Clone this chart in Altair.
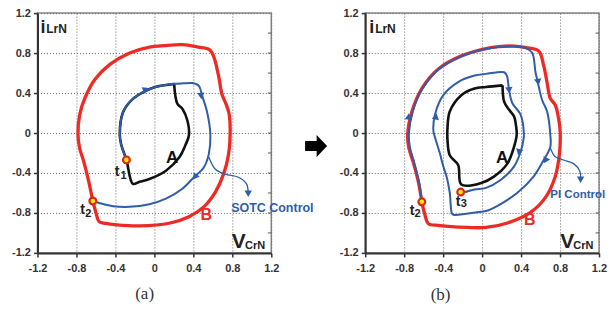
import altair as alt
import pandas as pd

RED = "#EE2A24"
BLUE = "#2F5DA8"
BLACK = "#111111"
DARK = "#222222"

ticks = [-1.2, -0.8, -0.4, 0, 0.4, 0.8, 1.2]
edge_ticks = [-1.0, -0.8, -0.6, -0.4, -0.2, 0.0, 0.2, 0.4, 0.6, 0.8, 1.0]

# ---------------- panel (a) ----------------
red_a_x = [-0.632, -0.598, -0.568, -0.50, -0.388, -0.15, 0.152, 0.355, 0.507, 0.626, 0.710, 0.761, 0.778,
           0.765, 0.735, 0.693, 0.659, 0.608, 0.565, 0.45, 0.287, 0.10, -0.05, -0.254, -0.456, -0.609,
           -0.710, -0.768, -0.784, -0.768, -0.727, -0.676, -0.632]
red_a_y = [-0.680, -0.805, -0.887, -0.905, -0.919, -0.930, -0.903, -0.837, -0.739, -0.591, -0.411, -0.214, 0.049,
           0.20, 0.29, 0.391, 0.571, 0.768, 0.835, 0.86, 0.884, 0.875, 0.86, 0.801, 0.687, 0.539,
           0.358, 0.177, -0.02, -0.148, -0.279, -0.476, -0.680]

black_a_x = [0.203, 0.236, 0.287, 0.338, 0.355, 0.321, 0.254, 0.119, -0.051, -0.152, -0.220, -0.287, -0.34,
             -0.355, -0.321, -0.220, -0.084, 0.0, 0.10, 0.203]
black_a_y = [0.490, 0.293, 0.243, 0.128, -0.020, -0.115, -0.246, -0.377, -0.460, -0.488, -0.509, -0.269, -0.118,
             -0.020, 0.210, 0.342, 0.424, 0.458, 0.478, 0.490]

blue_a_x = [-0.287, -0.34, -0.355, -0.321, -0.220, -0.084, 0.0, 0.10, 0.203, 0.30, 0.389, 0.456, 0.49, 0.541,
            0.575, 0.558, 0.507, 0.406, 0.287, 0.119, -0.051, -0.254, -0.423, -0.632]
blue_a_y = [-0.269, -0.118, -0.020, 0.210, 0.342, 0.424, 0.458, 0.478, 0.492, 0.497, 0.50, 0.473, 0.374, 0.210,
            -0.020, -0.214, -0.345, -0.443, -0.558, -0.657, -0.712, -0.739, -0.732, -0.680]

call_a_x = [0.558, 0.626, 0.727, 0.862, 0.946, 0.963]
call_a_y = [-0.24, -0.362, -0.411, -0.443, -0.509, -0.60]

arr_a_x = [-0.085, 0.48, 0.416, 0.963]
arr_a_y = [0.437, 0.371, -0.44, -0.608]
arr_a_ang = [65, 175, 215, 180]

pts_a_x = [-0.287, -0.632]
pts_a_y = [-0.269, -0.680]

# ---------------- panel (b) ----------------
red_b_x = [-0.619, -0.585, -0.551, -0.45, -0.348, -0.15, 0.04, 0.261, 0.497, 0.649, 0.751, 0.794, 0.801, 0.784,
           0.751, 0.700, 0.666, 0.632, 0.581, 0.45, 0.328, 0.17, 0.04, -0.213, -0.449, -0.619, -0.720, -0.764,
           -0.754, -0.703, -0.652, -0.619]
red_b_y = [-0.689, -0.826, -0.908, -0.925, -0.935, -0.945, -0.945, -0.90, -0.794, -0.647, -0.434, -0.206, 0.02, 0.151,
           0.281, 0.347, 0.51, 0.674, 0.821, 0.855, 0.870, 0.865, 0.845, 0.772, 0.641, 0.445, 0.216, -0.013,
           -0.14, -0.304, -0.5, -0.689]

black_b_x = [0.21, 0.226, 0.277, 0.327, 0.350, 0.355, 0.327, 0.261, 0.125, -0.01, -0.213, -0.246, -0.332, -0.355,
             -0.355, -0.332, -0.213, -0.078, 0.04, 0.21]
black_b_y = [0.477, 0.314, 0.232, 0.167, 0.06, -0.02, -0.14, -0.304, -0.434, -0.5, -0.516, -0.32, -0.222,
             -0.075, 0.056, 0.216, 0.379, 0.445, 0.461, 0.477]

blue_b_x = [-0.619, -0.645, -0.695, -0.742, -0.752, -0.712, -0.612, -0.443, -0.21, 0.04, 0.328, 0.45, 0.514,
            0.548, 0.571, 0.616, 0.667, 0.700, 0.700, 0.632, 0.530, 0.362, 0.159, 0.04, -0.01, -0.281, -0.307,
            -0.332, -0.365, -0.398, -0.433, -0.484, -0.50, -0.484, -0.398, -0.246, -0.078, 0.04, 0.226, 0.254,
            0.277, 0.311, 0.395, 0.429, 0.423, 0.395, 0.327, 0.193, 0.04, -0.078, -0.180, -0.22]
blue_b_y = [-0.689, -0.5, -0.304, -0.14, -0.013, 0.216, 0.445, 0.641, 0.77, 0.843, 0.866, 0.85, 0.804,
            0.608, 0.51, 0.330, 0.216, -0.013, -0.14, -0.27, -0.434, -0.598, -0.728, -0.78, -0.787, -0.82, -0.81,
            -0.598, -0.434, -0.336, -0.206, -0.042, 0.02, 0.183, 0.379, 0.510, 0.575, 0.592, 0.608, 0.575,
            0.428, 0.298, 0.183, -0.013, -0.075, -0.19, -0.336, -0.467, -0.549, -0.565, -0.591, -0.591]

call_b_x = [0.700, 0.751, 0.835, 0.936, 1.004, 1.011]
call_b_y = [-0.15, -0.238, -0.27, -0.304, -0.385, -0.46]

arr_b_x = [-0.754, -0.474, 0.575, 0.277, 0.378, 0.649, 1.011]
arr_b_y = [0.167, 0.167, 0.51, 0.428, -0.192, -0.275, -0.467]
arr_b_ang = [5, 10, 172, 175, 195, 208, 180]

pts_b_x = [-0.619, -0.22]
pts_b_y = [-0.689, -0.591]

LABEL_EXPR = "datum.value == 0 ? '0' : (datum.value < 0 ? '-' : '') + format(abs(datum.value), '.1f')"

AX = dict(values=ticks, title=None, grid=True, gridDash=[1, 2], gridColor="#666", gridWidth=1,
          domainColor="#333", domainWidth=2, tickColor="#333", tickSize=4, tickWidth=1.5,
          labelFont="Liberation Sans", labelFontWeight="bold", labelFontSize=11, labelColor="#333",
          labelFlush=False, labelExpr=LABEL_EXPR)
x_axis = alt.Axis(labelPadding=6, **AX)
y_axis = alt.Axis(labelPadding=3, **AX)
SC = alt.Scale(domain=[-1.2, 1.2], nice=False, zero=False)
X = alt.X("x:Q", scale=SC, axis=x_axis)
Y = alt.Y("y:Q", scale=SC, axis=y_axis)


def df(xs, ys, **extra):
    d = pd.DataFrame({"x": xs, "y": ys})
    d["o"] = range(len(xs))
    for k, v in extra.items():
        d[k] = v
    return d


def line(xs, ys, color, width, interp="catmull-rom"):
    return alt.Chart(df(xs, ys)).mark_line(color=color, strokeWidth=width, interpolate=interp).encode(
        x=X, y=Y, order="o:Q")


def heads(xs, ys, angs, size=55):
    return alt.Chart(df(xs, ys, a=angs)).mark_point(shape="triangle-up", filled=True, color=BLUE, opacity=1,
                                                     size=size).encode(
        x=X, y=Y, angle=alt.Angle("a:Q", scale=None))


def marks(xs, ys):
    return alt.Chart(df(xs, ys)).mark_point(shape="circle", filled=True, fill="#FFEB00", stroke="#D9261C",
                                            strokeWidth=2.2, opacity=1, size=46).encode(x=X, y=Y)


def txt(texts, xs, ys, size, color=DARK, font="Liberation Sans", weight="bold", align="left",
        baseline="alphabetic"):
    return alt.Chart(df(xs, ys, t=texts)).mark_text(fontSize=size, color=color, font=font, fontWeight=weight,
                                                    align=align, baseline=baseline).encode(
        x=X, y=Y, text="t:N")


def edge():
    d = pd.DataFrame({"y": edge_ticks})
    d["x"] = 1.2
    d["x2"] = 1.165
    return alt.Chart(d).mark_rule(color="#555", strokeWidth=1).encode(x=X, x2="x2:Q", y=Y)


# block arrow between the panels
block_x = [1.66]
block_y = [-0.13]
BLOCK = "M-1,-0.45L0.05,-0.45L0.05,-1L1,0L0.05,1L0.05,0.45L-1,0.45Z"

W, H = 234, 240

panel_a = alt.layer(
    edge(),
    line(red_a_x, red_a_y, RED, 3.3),
    line(black_a_x, black_a_y, BLACK, 2.6),
    line(blue_a_x, blue_a_y, BLUE, 2.0),
    line(call_a_x, call_a_y, BLUE, 1.3),
    heads(arr_a_x, arr_a_y, arr_a_ang),
    marks(pts_a_x, pts_a_y),
    txt(["i"], [-1.17], [0.998], 18),
    txt(["LrN"], [-1.11], [0.998], 12),
    txt(["V"], [0.795], [-1.15], 21),
    txt(["CrN"], [0.930], [-1.16], 11),
    txt(["A"], [0.119], [-0.296], 17, BLACK),
    txt(["B"], [0.474], [-0.870], 16, RED),
    txt(["t", "t"], [-0.406, -0.761], [-0.427, -0.811], 14),
    txt(["1", "2"], [-0.348, -0.710], [-0.46, -0.844], 11),
    txt(["SOTC Control"], [0.788], [-0.788], 12.5, BLUE),
    txt(["(a)"], [-0.10], [-1.616], 17, "#333", "Liberation Serif", "normal", "center", "middle"),
    alt.Chart(df(block_x, block_y)).mark_point(shape=BLOCK, filled=True, color="black", opacity=1,
                                               size=484).encode(x=X, y=Y),
).properties(width=W, height=H)

panel_b = alt.layer(
    edge(),
    line(red_b_x, red_b_y, RED, 3.3),
    line(black_b_x, black_b_y, BLACK, 2.6),
    line(blue_b_x, blue_b_y, BLUE, 2.0),
    line(call_b_x, call_b_y, BLUE, 1.3),
    heads(arr_b_x, arr_b_y, arr_b_ang),
    marks(pts_b_x, pts_b_y),
    txt(["i"], [-1.159], [1.0], 18),
    txt(["LrN"], [-1.098], [1.0], 12),
    txt(["V"], [0.801], [-1.153], 21),
    txt(["CrN"], [0.936], [-1.16], 11),
    txt(["A"], [0.142], [-0.297], 17, BLACK),
    txt(["B"], [0.429], [-0.925], 16, RED),
    txt(["t", "t"], [-0.743, -0.271], [-0.820, -0.728], 14),
    txt(["2", "3"], [-0.693, -0.220], [-0.843, -0.745], 11),
    txt(["PI Control"], [0.70], [-0.647], 11.5, BLUE),
    txt(["(b)"], [-0.426], [-1.62], 17, "#333", "Liberation Serif", "normal", "center", "middle"),
).properties(width=W, height=H)

chart = alt.hconcat(panel_a, panel_b, spacing=94, bounds="flush").properties(
    padding={"left": 2.5, "top": -2, "right": 0, "bottom": 0}
).configure_view(stroke="#888", strokeWidth=1.5)

chart.save("out.html", embed_options={"renderer": "svg", "actions": False})
